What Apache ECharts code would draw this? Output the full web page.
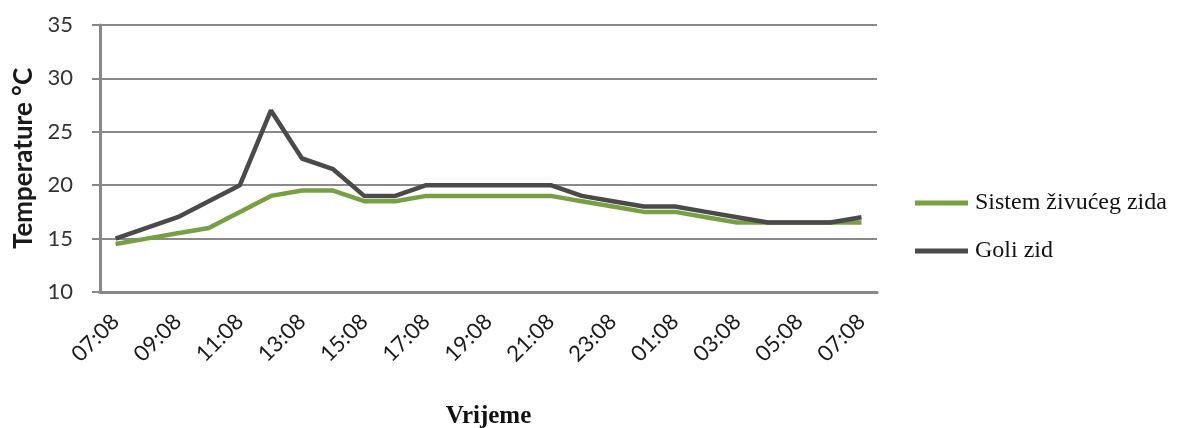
<!DOCTYPE html>
<html>
<head>
<meta charset="utf-8">
<script src="https://cdn.jsdelivr.net/npm/echarts@6/dist/echarts.min.js"></script>
<style>
html,body{margin:0;padding:0;background:#fff;}
#chart{width:1178px;height:428px;}
</style>
</head>
<body>
<div id="chart"></div>
<script>
const categories = ["07:08","08:08","09:08","10:08","11:08","12:08","13:08","14:08","15:08","16:08","17:08","18:08","19:08","20:08","21:08","22:08","23:08","00:08","01:08","02:08","03:08","04:08","05:08","06:08","07:08"];
const sistemZivucegZida = [14.5,15,15.5,16,17.5,19,19.5,19.5,18.5,18.5,19,19,19,19,19,18.5,18,17.5,17.5,17,16.5,16.5,16.5,16.5,16.5];
const goliZid = [15,16,17,18.5,20,27,22.5,21.5,19,19,20,20,20,20,20,19,18.5,18,18,17.5,17,16.5,16.5,16.5,17];
const seriesNames = ["Sistem živućeg zida","Goli zid"];
const yTicks = {min:10,max:35,interval:5};

const chart = echarts.init(document.getElementById('chart'));
chart.setOption({
  animation:false,
  backgroundColor:'#fff',
  grid:{left:100,right:301,top:25,bottom:136,containLabel:false,outerBoundsMode:'none'},
  legend:{
    orient:'vertical',left:910,top:186,itemWidth:53,itemHeight:5,itemGap:24,
    icon:'rect',
    textStyle:{fontFamily:'Liberation Serif',fontSize:24,color:'#111',padding:[0,0,0,2]},
    data:seriesNames
  },
  xAxis:{
    type:'category',data:categories,boundaryGap:true,
    name:'Vrijeme',nameLocation:'middle',nameGap:112,
    nameTextStyle:{fontFamily:'Liberation Serif',fontWeight:'bold',fontSize:25,color:'#111'},
    axisLine:{lineStyle:{color:'#888',width:3}},
    axisTick:{show:false},
    axisLabel:{interval:1,rotate:45,fontFamily:'Lato',fontSize:22,color:'#1a1a1a',margin:26},
    z:5
  },
  yAxis:{
    type:'value',min:yTicks.min,max:yTicks.max,interval:yTicks.interval,
    name:'Temperature °C',nameLocation:'middle',nameGap:63,
    nameTextStyle:{fontFamily:'Lato',fontWeight:'bold',fontSize:26,color:'#1a1a1a'},
    axisLine:{show:true,lineStyle:{color:'#888',width:3}},
    axisTick:{show:true,length:8,lineStyle:{color:'#888',width:2}},
    axisLabel:{fontFamily:'Lato',fontSize:22,color:'#333',margin:27},
    splitLine:{lineStyle:{color:'#8a8a8a',width:2}}
  },
  series:[
    {name:seriesNames[0],type:'line',data:sistemZivucegZida,symbol:'none',color:'#77a043',lineStyle:{width:4.5,color:'#77a043'},z:2},
    {name:seriesNames[1],type:'line',data:goliZid,symbol:'none',color:'#4a4a4a',lineStyle:{width:4.5,color:'#4a4a4a'},z:3}
  ]
});
</script>
</body>
</html>
